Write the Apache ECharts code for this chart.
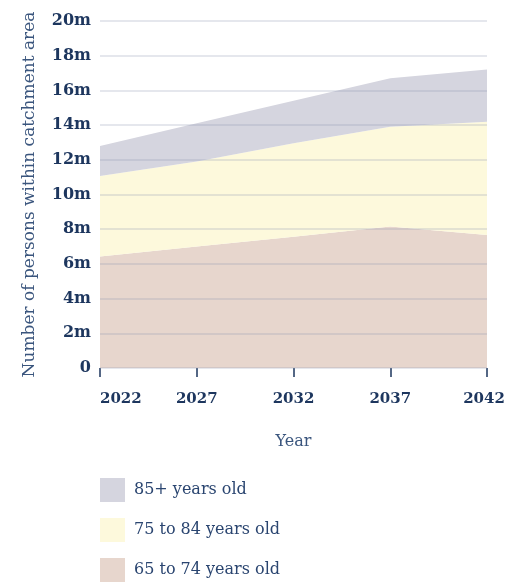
<!DOCTYPE html>
<html><head><meta charset="utf-8">
<script src="https://cdn.jsdelivr.net/npm/echarts@6/dist/echarts.min.js"></script>
<style>html,body{margin:0;padding:0;background:#fff}#c{width:506px;height:582px}</style>
</head><body><div id="c"></div>
<script>
var years = ['2022', '2027', '2032', '2037', '2042'];
var yTicks = ['0','2m','4m','6m','8m','10m','12m','14m','16m','18m','20m'];
var age65to74 = [6.42, 7.0, 7.57, 8.15, 7.67];
var age75to84 = [4.65, 4.9, 5.39, 5.75, 6.53];
var age85plus = [1.73, 2.2, 2.44, 2.8, 3.0];
var seriesNames = ['85+ years old', '75 to 84 years old', '65 to 74 years old'];
var colors = ['#d5d5df', '#fdf9dc', '#e7d6cd'];

var navy = '#1d365e';
var font = 'DejaVu Serif';
function mk(name, arr, color){
  return {name:name, type:'line', stack:'s', data:arr, symbol:'none',
    lineStyle:{width:0}, areaStyle:{color:color, opacity:1}, itemStyle:{color:color}, z:1};
}
var lblStyle = {fontFamily:font, fontSize:15, fontWeight:'bold', color:navy};
var chart = echarts.init(document.getElementById('c'));
chart.setOption({
  animation:false,
  grid:{left:100, right:19, top:21, bottom:214, outerBoundsMode:'none', containLabel:false},
  legend:{orient:'vertical', left:100, top:478, padding:0, itemWidth:25, itemHeight:24, itemGap:16,
    icon:'rect', data:seriesNames,
    textStyle:{fontFamily:font, fontSize:16, color:'#2a4570', padding:[0,0,0,4]}},
  xAxis:{type:'category', data:years, boundaryGap:false, name:'Year', nameLocation:'middle', nameGap:66,
    nameTextStyle:{fontFamily:font, fontSize:16, color:'#3a557d'},
    axisLine:{show:false}, splitLine:{show:false},
    axisTick:{show:true, interval:0, length:9, lineStyle:{color:navy, width:1.5}},
    axisLabel:{fontFamily:font, fontSize:15, fontWeight:'bold', color:navy, margin:24,
      interval:0, hideOverlap:false, alignMinLabel:'left',
      formatter:function(v, i){ return i === years.length-1 ? '{last|'+v+'}' : v; },
      rich:{last:Object.assign({padding:[0,6,0,0]}, lblStyle)}}},
  yAxis:{type:'value', min:0, max:20, interval:2, z:3, name:'Number of persons within catchment area',
    nameLocation:'middle', nameGap:62, nameTextStyle:{fontFamily:font, fontSize:17, color:'#3a557d'},
    axisLine:{show:false}, axisTick:{show:false},
    splitLine:{lineStyle:{color:'rgba(140,145,175,0.3)', width:1.5}},
    axisLabel:{fontFamily:font, fontSize:16, fontWeight:'bold', color:navy, margin:9,
      formatter:function(v){return yTicks[Math.round(v/2)];}}},
  series:[mk(seriesNames[2], age65to74, colors[2]), mk(seriesNames[1], age75to84, colors[1]), mk(seriesNames[0], age85plus, colors[0])]
});
</script></body></html>
